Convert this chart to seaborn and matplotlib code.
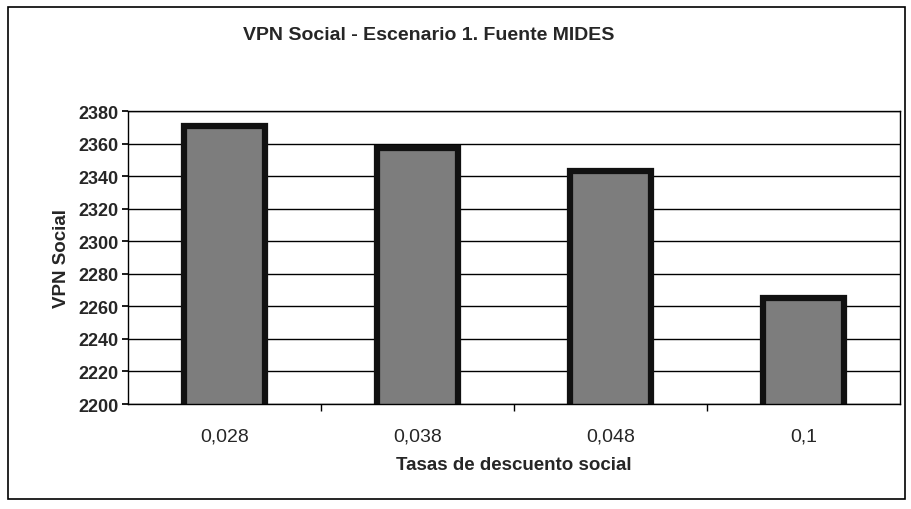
import matplotlib
matplotlib.use("Agg")
import matplotlib.pyplot as plt
import seaborn as sns
import pandas as pd
from matplotlib.patches import Rectangle

categories = ["0,028", "0,038", "0,048", "0,1"]
values = [2371, 2357, 2343, 2265]

sns.set_theme(style="white")
plt.rcParams['font.family'] = ['Liberation Sans', 'DejaVu Sans']

df = pd.DataFrame({"tasa": categories, "vpn": values})

fig = plt.figure(figsize=(9.12, 5.10), dpi=100)
ax = fig.add_axes([128/912, 1 - 405/510, (900-128)/912, (405-112)/510])

sns.barplot(data=df, x="tasa", y="vpn", ax=ax, color="#7d7d7d", width=0.42,
            edgecolor="#111111", linewidth=4.5, saturation=1)

ax.set_ylim(2200, 2380)
ax.set_yticks(range(2200, 2381, 20))
ax.yaxis.grid(True, color="black", linewidth=1)
ax.set_axisbelow(True)
for s in ax.spines.values():
    s.set_color("black")
    s.set_linewidth(1)
ax.tick_params(axis="y", labelsize=13, left=True, length=4, color="black", pad=3)
ax.tick_params(axis="x", labelsize=14, bottom=False, pad=11)
for t in ax.get_yticklabels():
    t.set_fontweight("bold")
ax.set_xticks([0.5, 1.5, 2.5], minor=True)
ax.tick_params(axis="x", which="minor", bottom=True, length=5, color="black")

ax.set_xlabel("Tasas de descuento social", fontsize=13.5, fontweight="bold", labelpad=8)
ax.set_ylabel("VPN Social", fontsize=13.5, fontweight="bold", labelpad=6)
fig.text(0.47, 1 - 36/510, "VPN Social - Escenario 1. Fuente MIDES", ha="center",
         va="center", fontsize=14, fontweight="bold")

fig.patches.append(Rectangle((8/912, 1 - 500/510), (905-8)/912, (500-8)/510,
                             transform=fig.transFigure, fill=False,
                             edgecolor="black", linewidth=1.2))

fig.savefig("out.png", dpi=100)
